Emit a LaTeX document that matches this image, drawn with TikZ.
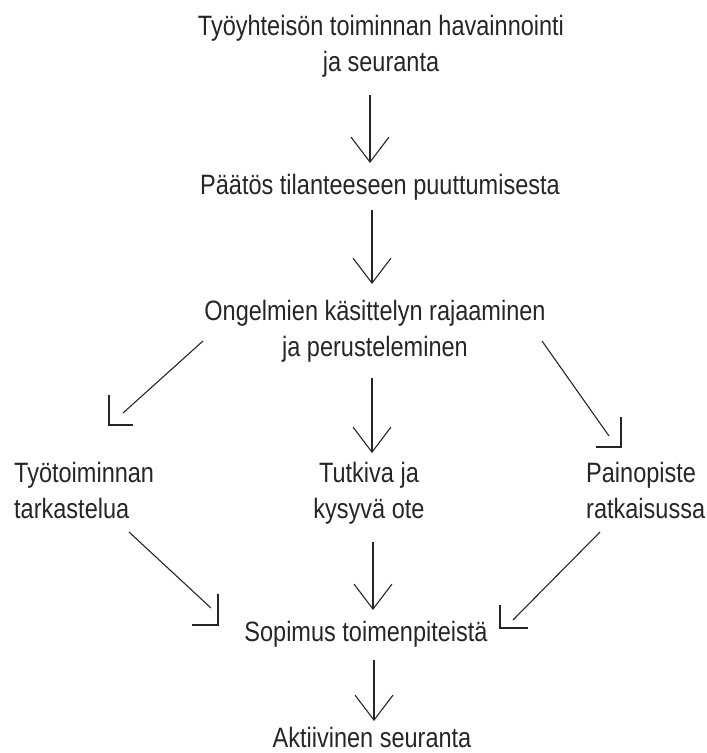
\documentclass[tikz,border=0pt]{standalone}
\usepackage{fontspec}
\setmainfont{Liberation Sans}[FakeStretch=0.84]
\usetikzlibrary{arrows.meta,calc}
% two-line text block whose baseline is that of its first line
\newcommand{\twoline}[3][c]{\begin{tabular}[t]{@{}#1@{}}#2\\#3\end{tabular}}
\begin{document}
\begin{tikzpicture}[x=1pt,y=-1pt,
  label/.style={inner sep=0pt,anchor=base,font=\fontsize{28}{36}\selectfont,text=black!85},
  conn/.style={draw=black!85,line width=1.1pt},
  downarrow/.style={conn,-{Straight Barb[length=25pt,width=38pt,line width=1.1pt]}},
  cornertip/.style={conn,line join=miter}]
\useasboundingbox (0,0) rectangle (707,753);

% text blocks (positions are first-line baselines)
\node[label] (obs)  at (381,35)  {\twoline{Työyhteisön toiminnan havainnointi}{ja seuranta}};
\node[label] (dec)  at (380,194) {Päätös tilanteeseen puuttumisesta};
\node[label] (lim)  at (375,320) {\twoline{Ongelmien käsittelyn rajaaminen}{ja perusteleminen}};
\node[label,anchor=base west] (work) at (14,482)  {\twoline[l]{Työtoiminnan}{tarkastelua}};
\node[label] (ask)  at (369,482) {\twoline{Tutkiva ja}{kysyvä ote}};
\node[label,anchor=base west] (sol)  at (586,482) {\twoline[l]{Painopiste}{ratkaisussa}};
\node[label] (agr)  at (366,641) {Sopimus toimenpiteistä};
\node[label] (fol)  at (372,747) {Aktiivinen seuranta};

% connector end points
\coordinate (a1s) at (370,95);  \coordinate (a1e) at (370,163);
\coordinate (a2s) at (372,210); \coordinate (a2e) at (372,284);
\coordinate (a3s) at (372,378); \coordinate (a3e) at (372,453);
\coordinate (a4s) at (373,542); \coordinate (a4e) at (373,610);
\coordinate (a5s) at (374,660); \coordinate (a5e) at (374,721);

\coordinate (d1s) at (203,341); \coordinate (d1e) at (123,413); \coordinate (d1t) at (109,425);
\coordinate (d2s) at (542,341); \coordinate (d2e) at (609,436); \coordinate (d2t) at (621,447);
\coordinate (d3s) at (129,532); \coordinate (d3e) at (211,608); \coordinate (d3t) at (218,625);
\coordinate (d4s) at (600,532); \coordinate (d4e) at (513,620); \coordinate (d4t) at (500,628);

% straight downward arrows
\draw[downarrow] (a1s) -- (a1e);
\draw[downarrow] (a2s) -- (a2e);
\draw[downarrow] (a3s) -- (a3e);
\draw[downarrow] (a4s) -- (a4e);
\draw[downarrow] (a5s) -- (a5e);

% slanted arrows with right-angled heads
\draw[conn] (d1s) -- (d1e);
\draw[cornertip] ($(d1t)+(0,-30)$) -- (d1t) -- ($(d1t)+(24,0)$);
\draw[conn] (d2s) -- (d2e);
\draw[cornertip] ($(d2t)+(0,-30)$) -- (d2t) -- ($(d2t)+(-25,0)$);
\draw[conn] (d3s) -- (d3e);
\draw[cornertip] ($(d3t)+(0,-31)$) -- (d3t) -- ($(d3t)+(-26,0)$);
\draw[conn] (d4s) -- (d4e);
\draw[cornertip] ($(d4t)+(0,-23)$) -- (d4t) -- ($(d4t)+(28,0)$);
\end{tikzpicture}
\end{document}
